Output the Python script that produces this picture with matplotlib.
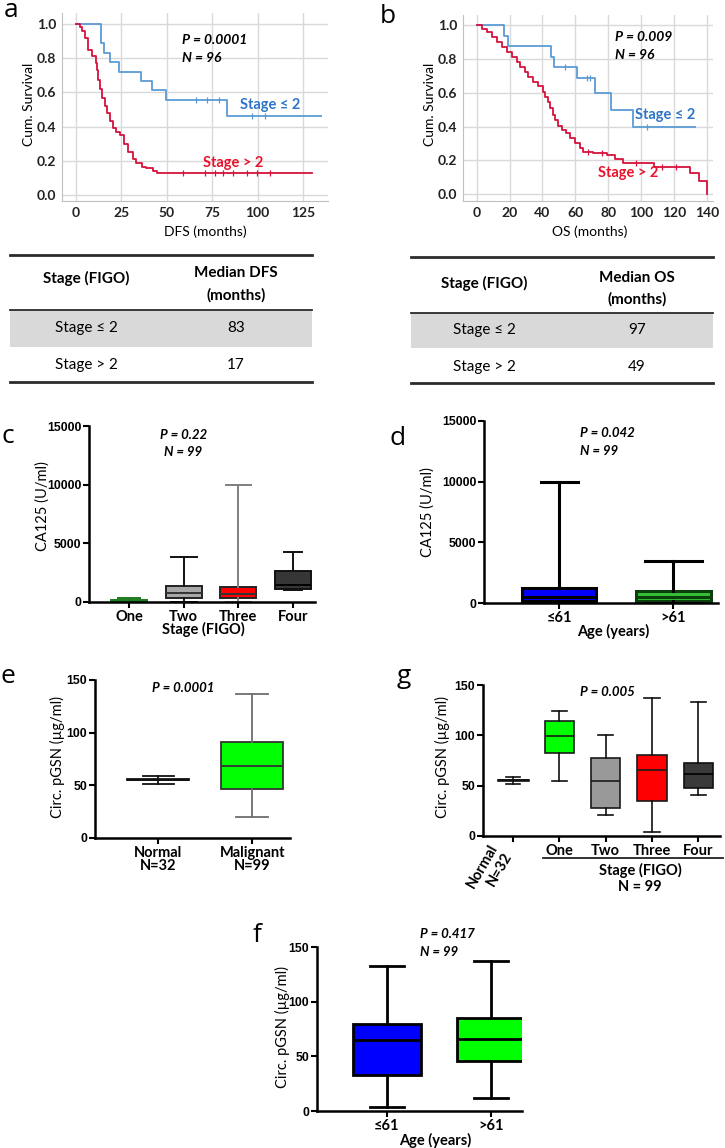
import matplotlib
matplotlib.use('Agg')
import matplotlib.pyplot as plt
from matplotlib.patches import Rectangle

W, H = 725, 1148
fig = plt.figure(figsize=(W / 100, H / 100), dpi=100)

CAL = ['Lato', 'DejaVu Sans']
ARI = ['Liberation Sans Narrow', 'Liberation Sans', 'DejaVu Sans']

# ---------------- DATA ----------------
# Panel a: DFS Kaplan-Meier
dfs_le2_t = [0, 14, 15.6, 18.7, 23.9, 36, 42, 49.6, 83, 134.7]
dfs_le2_s = [1.0, 0.889, 0.833, 0.778, 0.722, 0.667, 0.611, 0.556, 0.463, 0.463]
dfs_le2_cens_t = [66, 72, 79, 97, 104]
dfs_le2_cens_s = [0.556, 0.556, 0.556, 0.463, 0.463]
dfs_gt2_t = [0, 2, 3.5, 4.8, 6.6, 9.0, 10.9, 11.6, 12.3, 13.1, 14.2, 15.8, 17.1, 18.6,
             20.4, 22.3, 24.5, 26.3, 28.7, 31.5, 33.3, 36.1, 38.8, 42.2, 44.4, 130]
dfs_gt2_s = [1.0, 0.98, 0.96, 0.92, 0.85, 0.81, 0.77, 0.73, 0.67, 0.62, 0.57, 0.52, 0.48, 0.43,
             0.39, 0.37, 0.35, 0.30, 0.25, 0.21, 0.185, 0.165, 0.155, 0.14, 0.126, 0.126]
dfs_gt2_cens_t = [59, 71, 76.5, 81, 86.5, 94, 99.5, 107]
dfs_gt2_cens_s = [0.126] * 8

# Panel b: OS Kaplan-Meier
os_le2_t = [0, 16.6, 19.3, 45, 47, 61.3, 72, 81.6, 95.4, 133]
os_le2_s = [1.0, 0.9375, 0.875, 0.8125, 0.75, 0.6875, 0.60, 0.50, 0.40, 0.40]
os_le2_cens_t = [54, 67, 69, 103.5]
os_le2_cens_s = [0.75, 0.6875, 0.6875, 0.40]
os_gt2_t = [0, 3, 6.1, 9.1, 12.2, 15.2, 18.3, 21.3, 24.3, 26.4, 29.4, 31.4, 34.5, 37.5, 40.2,
            41.8, 43.2, 44.6, 46.3, 47.7, 49.7, 51.7, 54.4, 56.8, 59.9, 62.9, 64.9, 71.0, 79.1,
            84, 89, 108, 130, 135, 140.4]
os_gt2_s = [1.0, 0.98, 0.961, 0.931, 0.902, 0.872, 0.843, 0.813, 0.783, 0.754, 0.724, 0.695,
            0.665, 0.64, 0.606, 0.577, 0.547, 0.508, 0.469, 0.439, 0.404, 0.38, 0.36, 0.331,
            0.301, 0.272, 0.252, 0.242, 0.232, 0.21, 0.183, 0.163, 0.124, 0.08, 0.0]
os_gt2_cens_t = [68, 76, 97, 113, 121]
os_gt2_cens_s = [0.252, 0.242, 0.183, 0.163, 0.163]

# Tables
table_rows = ['Stage ≤ 2', 'Stage > 2']
median_dfs = [83, 17]
median_os = [97, 49]

# Panel c: CA125 by stage
c_groups = ['One', 'Two', 'Three', 'Four']
c_q1 = [60, 300, 300, 1080]
c_med = [120, 790, 650, 1450]
c_q3 = [200, 1360, 1250, 2640]
c_lo = [20, 30, 30, 1000]
c_hi = [370, 3860, 10000, 4260]

# Panel d: CA125 by age
d_groups = ['≤61', '>61']
d_q1 = [200, 150]
d_med = [500, 500]
d_q3 = [1200, 950]
d_lo = [20, 20]
d_hi = [10000, 3450]

# Panel e: pGSN normal vs malignant
e_groups = ['Normal\nN=32', 'Malignant\nN=99']
e_q1 = [55.0, 46.7]
e_med = [55.3, 68.6]
e_q3 = [55.6, 91.4]
e_lo = [51.6, 20.2]
e_hi = [58.5, 136.8]

# Panel g: pGSN by stage
g_groups = ['Normal\nN=32', 'One', 'Two', 'Three', 'Four']
g_q1 = [55.0, 82.7, 27.5, 34.7, 47.6]
g_med = [55.3, 99.3, 54.6, 65.8, 61.9]
g_q3 = [55.6, 114.0, 77.0, 80.0, 72.3]
g_lo = [51.6, 55.0, 20.5, 4.0, 41.0]
g_hi = [58.9, 124.5, 99.9, 137.3, 133.3]

# Panel f: pGSN by age
f_groups = ['≤61', '>61']
f_q1 = [33.0, 46.0]
f_med = [65.0, 65.9]
f_q3 = [79.9, 85.0]
f_lo = [4.0, 11.6]
f_hi = [133.0, 137.6]


# ---------------- HELPERS ----------------
def px_axes(l, t, r, b):
    return fig.add_axes([l / W, 1 - b / H, (r - l) / W, (b - t) / H])


ov = fig.add_axes([0, 0, 1, 1], zorder=5)
ov.set_xlim(0, W)
ov.set_ylim(H, 0)
ov.axis('off')
ov.patch.set_alpha(0)


def T(x, y, s, size=9, weight='normal', style='normal', family=CAL, ha='center',
      va='center', color='black', rot=0):
    ov.text(x, y, s, fontsize=size, fontweight=weight, fontstyle=style, family=family,
            ha=ha, va=va, color=color, rotation=rot)


BLUE_L = '#5b9bd5'
BLUE_T = '#2e75c6'
RED_L = '#d6123d'
RED_T = '#e8132b'


def style_km(ax, xticks, xlim, ylim):
    ax.set_xlim(*xlim)
    ax.set_ylim(*ylim)
    ax.set_xticks(xticks)
    ax.set_yticks([0, 0.2, 0.4, 0.6, 0.8, 1.0])
    ax.set_yticklabels(['0.0', '0.2', '0.4', '0.6', '0.8', '1.0'])
    ax.grid(True, color='#d9d9d9', lw=1.0)
    ax.set_axisbelow(True)
    for s in ['top', 'right']:
        ax.spines[s].set_visible(False)
    for s in ['left', 'bottom']:
        ax.spines[s].set_color('#c0c0c0')
    ax.tick_params(length=0, pad=4)
    for lb in ax.get_xticklabels() + ax.get_yticklabels():
        lb.set_family(CAL)
        lb.set_fontweight('bold')
        lb.set_fontsize(10)
        lb.set_color('#222222')


def draw_km(ax, t, s, ct, cs, color):
    ax.step(t, s, where='post', color=color, lw=1.3)
    ax.plot(ct, cs, ls='none', marker='|', ms=4, mew=0.9, color=color)


def style_box(ax, ylim, yticks, xlim):
    ax.set_ylim(*ylim)
    ax.set_xlim(*xlim)
    ax.set_yticks(yticks)
    for s in ['top', 'right']:
        ax.spines[s].set_visible(False)
    for s in ['left', 'bottom']:
        ax.spines[s].set_linewidth(1.8)
        ax.spines[s].set_color('black')
    ax.tick_params(width=1.5, length=4, direction='out', pad=1.5)
    for lb in ax.get_yticklabels():
        lb.set_family(ARI)
        lb.set_fontweight('bold')
        lb.set_fontsize(8.8)


def draw_box(ax, pos, q1, med, q3, lo, hi, faces, edges, whisk, meds, lw, width, capw):
    stats = [dict(q1=a, med=b, q3=c, whislo=d, whishi=e)
             for a, b, c, d, e in zip(q1, med, q3, lo, hi)]
    r = ax.bxp(stats, positions=pos, widths=width, capwidths=capw, patch_artist=True,
               showfliers=False, manage_ticks=False)
    for i, bx in enumerate(r['boxes']):
        bx.set_facecolor(faces[i])
        bx.set_edgecolor(edges[i])
        bx.set_linewidth(lw)
        r['medians'][i].set_color(meds[i])
        r['medians'][i].set_linewidth(lw)
        for w in r['whiskers'][2 * i:2 * i + 2]:
            w.set_color(whisk[i])
            w.set_linewidth(lw)
        for c in r['caps'][2 * i:2 * i + 2]:
            c.set_color(whisk[i])
            c.set_linewidth(lw)


def xt(ax, pos, labels, size=10.5):
    ax.set_xticks(pos)
    ax.set_xticklabels(labels, family=CAL, fontweight='bold', fontsize=size, linespacing=0.95)


# ---------------- PANEL a ----------------
axa = px_axes(62, 13, 328, 201)
draw_km(axa, dfs_le2_t, dfs_le2_s, dfs_le2_cens_t, dfs_le2_cens_s, BLUE_L)
draw_km(axa, dfs_gt2_t, dfs_gt2_s, dfs_gt2_cens_t, dfs_gt2_cens_s, RED_L)
style_km(axa, [0, 25, 50, 75, 100, 125], (-7.7, 138.8), (-0.035, 1.064))
T(11, 17, 'a', size=19, va='baseline', family=['Open Sans', 'DejaVu Sans'])
T(29, 104, 'Cum. Survival', size=10, rot=90)
T(205, 232, 'DFS (months)', size=10)
T(182, 40, 'P = 0.0001', size=10, weight='bold', style='italic', ha='left')
T(182, 58, 'N = 96', size=10, weight='bold', style='italic', ha='left')
T(240, 105, 'Stage ≤ 2', size=10.5, weight='bold', color=BLUE_T, ha='left')
T(203, 163, 'Stage > 2', size=10.5, weight='bold', color=RED_T, ha='left')

# ---------------- PANEL b ----------------
axb = px_axes(463, 15, 713, 201)
draw_km(axb, os_le2_t, os_le2_s, os_le2_cens_t, os_le2_cens_s, BLUE_L)
draw_km(axb, os_gt2_t, os_gt2_s, os_gt2_cens_t, os_gt2_cens_s, RED_L)
style_km(axb, [0, 20, 40, 60, 80, 100, 120, 140], (-8.3, 143.8), (-0.04, 1.06))
T(388, 23, 'b', size=19, va='baseline', family=['Open Sans', 'DejaVu Sans'])
T(430, 104, 'Cum. Survival', size=10, rot=90)
T(590, 232, 'OS (months)', size=10)
T(615, 37, 'P = 0.009', size=10, weight='bold', style='italic', ha='left')
T(615, 55, 'N = 96', size=10, weight='bold', style='italic', ha='left')
T(635, 115, 'Stage ≤ 2', size=10.5, weight='bold', color=BLUE_T, ha='left')
T(598, 173, 'Stage > 2', size=10.5, weight='bold', color=RED_T, ha='left')


# ---------------- TABLES ----------------
def table(x0, x1, ytop, yhead_line, ygrey_end, ybot, col1, col2, head2, vals, yh1, yh2a, yh2b,
          yr1, yr2):
    ov.add_patch(Rectangle((x0, yhead_line), x1 - x0, ygrey_end - yhead_line,
                           facecolor='#d9d9d9', edgecolor='none'))
    ov.plot([x0, x1], [ytop, ytop], color='#2b2b2b', lw=2.0)
    ov.plot([x0, x1], [yhead_line, yhead_line], color='#2b2b2b', lw=1.3)
    ov.plot([x0, x1], [ybot, ybot], color='#2b2b2b', lw=2.0)
    T(col1, yh1, 'Stage (FIGO)', size=11, weight='bold')
    T(col2, yh2a, head2, size=11, weight='bold')
    T(col2, yh2b, '(months)', size=11, weight='bold')
    T(col1, yr1, table_rows[0], size=11)
    T(col2, yr1, str(vals[0]), size=11)
    T(col1, yr2, table_rows[1], size=11)
    T(col2, yr2, str(vals[1]), size=11)


table(10, 312, 255, 310, 347, 382, 86, 236, 'Median DFS', median_dfs, 278, 273, 295, 328, 365)
table(411, 713, 257, 313, 348, 383, 484, 637, 'Median OS', median_os, 283, 278, 299, 330, 367)

# ---------------- PANEL c ----------------
axc = px_axes(89, 426, 315, 602)
draw_box(axc, [1, 2, 3, 4], c_q1, c_med, c_q3, c_lo, c_hi,
         faces=['#3fcf3f', '#a8a8a8', '#ff0000', '#363636'],
         edges=['#1d7a1d', '#222222', '#222222', '#111111'],
         whisk=['#1d7a1d', '#111111', '#7f7f7f', '#111111'],
         meds=['#1d7a1d', '#333333', '#333333', '#000000'],
         lw=1.4, width=0.66, capw=[0.4, 0.47, 0.45, 0.33])
style_box(axc, (0, 15000), [0, 5000, 10000, 15000], (0.27, 4.4))
xt(axc, [1, 2, 3, 4], c_groups)
T(8, 443, 'c', size=19, va='baseline', family=['Open Sans', 'DejaVu Sans'])
T(43, 506, 'CA125 (U/ml)', size=10.5, rot=90)
T(203, 629, 'Stage (FIGO)', size=10.5, weight='bold')
T(184, 435, 'P = 0.22', size=9.5, weight='bold', style='italic')
T(183, 452, 'N = 99', size=9.5, weight='bold', style='italic')

# ---------------- PANEL d ----------------
axd = px_axes(484, 421, 718, 603)
draw_box(axd, [1, 2], d_q1, d_med, d_q3, d_lo, d_hi,
         faces=['#0000ff', '#35c035'],
         edges=['#000000', '#0b3f0b'],
         whisk=['#000000', '#000000'],
         meds=['#000000', '#0b3f0b'],
         lw=2.2, width=0.65, capw=[0.33, 0.5])
style_box(axd, (0, 15000), [0, 5000, 10000, 15000], (0.34, 2.39))
xt(axd, [1, 2], d_groups)
T(398, 445, 'd', size=19, va='baseline', family=['Open Sans', 'DejaVu Sans'])
T(428, 512, 'CA125 (U/ml)', size=10.5, rot=90)
T(613, 631, 'Age (years)', size=10.5, weight='bold')
T(580, 433, 'P = 0.042', size=9.5, weight='bold', style='italic', ha='left')
T(580, 451, 'N = 99', size=9.5, weight='bold', style='italic', ha='left')

# ---------------- PANEL e ----------------
axe = px_axes(95, 680, 290, 838)
draw_box(axe, [1, 2], e_q1, e_med, e_q3, e_lo, e_hi,
         faces=['#ffffff', '#00ff00'],
         edges=['#111111', '#333333'],
         whisk=['#111111', '#6d6d6d'],
         meds=['#111111', '#333333'],
         lw=1.3, width=0.66, capw=[0.33, 0.34])
style_box(axe, (0, 150), [0, 50, 100, 150], (0.33, 2.4))
xt(axe, [1, 2], e_groups)
T(8, 683, 'e', size=19, va='baseline', family=['Open Sans', 'DejaVu Sans'])
T(57, 757, 'Circ. pGSN (µg/ml)', size=10.5, rot=90)
T(183, 688, 'P = 0.0001', size=9.5, weight='bold', style='italic')

# ---------------- PANEL g ----------------
axg = px_axes(483, 685, 720, 836)
draw_box(axg, [0, 1, 2, 3, 4], g_q1, g_med, g_q3, g_lo, g_hi,
         faces=['#ffffff', '#00ff00', '#999999', '#ff0000', '#3a3a3a'],
         edges=['#111111', '#1a1a1a', '#1a1a1a', '#1a1a1a', '#111111'],
         whisk=['#111111'] * 5,
         meds=['#111111', '#1a1a1a', '#1a1a1a', '#1a1a1a', '#000000'],
         lw=1.2, width=[0.67, 0.63, 0.63, 0.63, 0.63], capw=[0.32, 0.33, 0.33, 0.33, 0.33])
style_box(axg, (0, 150), [0, 50, 100, 150], (-0.65, 4.47))
axg.set_xticks([0, 1, 2, 3, 4])
axg.set_xticklabels([''] + g_groups[1:], family=CAL, fontweight='bold', fontsize=10.5)
T(404, 683, 'g', size=19, va='baseline', family=['Open Sans', 'DejaVu Sans'])
T(442, 757, 'Circ. pGSN (µg/ml)', size=10.5, rot=90)
T(607, 692, 'P = 0.005', size=9.5, weight='bold', style='italic')
T(515, 842, g_groups[0], size=10.5, weight='bold', rot=60, ha='right', va='top')
ov.plot([543, 723], [858, 858], color='#222222', lw=1.3)
T(640, 870, 'Stage (FIGO)', size=10.5, weight='bold')
T(640, 887, 'N = 99', size=10.5, weight='bold')

# ---------------- PANEL f ----------------
axf = px_axes(317, 947, 522, 1111)
draw_box(axf, [1, 2], f_q1, f_med, f_q3, f_lo, f_hi,
         faces=['#0000ff', '#00ff00'],
         edges=['#000000', '#000000'],
         whisk=['#000000', '#000000'],
         meds=['#000000', '#000000'],
         lw=2.0, width=0.65, capw=[0.33, 0.33])
style_box(axf, (0, 150), [0, 50, 100, 150], (0.33, 2.3))
xt(axf, [1, 2], f_groups)
T(257, 942, 'f', size=19, va='baseline', family=['Open Sans', 'DejaVu Sans'])
T(282, 1027, 'Circ. pGSN (µg/ml)', size=10.5, rot=90)
T(435, 1140, 'Age (years)', size=10.5, weight='bold')
T(420, 934, 'P = 0.417', size=9.5, weight='bold', style='italic', ha='left')
T(420, 952, 'N = 99', size=9.5, weight='bold', style='italic', ha='left')

fig.savefig('out.png', dpi=100)
